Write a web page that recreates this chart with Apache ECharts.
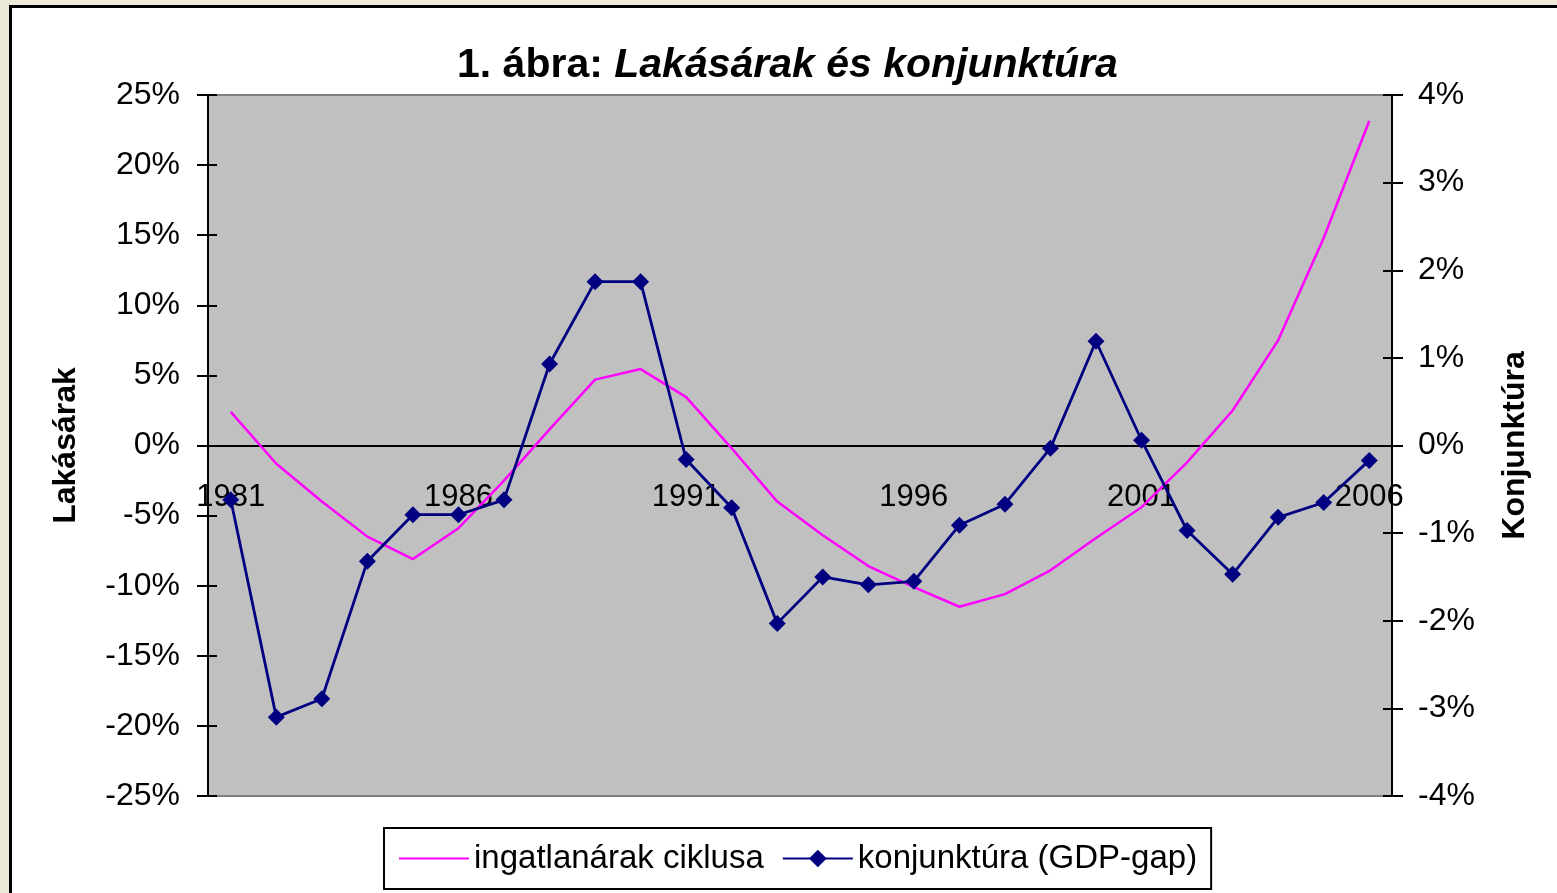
<!DOCTYPE html>
<html>
<head>
<meta charset="utf-8">
<script src="https://cdn.jsdelivr.net/npm/echarts@6/dist/echarts.min.js"></script>
<style>
  html, body { margin: 0; padding: 0; width: 1557px; height: 893px; overflow: hidden; background: #ECE9D8; }
  #frame { position: absolute; left: 9px; top: 5px; width: 1600px; height: 950px; border: 3px solid #000; background: #fff; }
  #chart { position: absolute; left: 0; top: 0; width: 1557px; height: 893px; }
</style>
</head>
<body>
<div id="frame"></div>
<div id="chart"></div>
<script>
// ---- data ----
const years = ['1981','1982','1983','1984','1985','1986','1987','1988','1989','1990','1991','1992','1993',
               '1994','1995','1996','1997','1998','1999','2000','2001','2002','2003','2004','2005','2006'];
// ingatlanárak ciklusa (left axis, %)
const housePrices = [2.4, -1.3, -4.0, -6.5, -8.1, -5.9, -2.5, 1.15, 4.7, 5.45, 3.45, -0.2, -4.0,
                     -6.4, -8.6, -10.1, -11.5, -10.6, -8.9, -6.6, -4.4, -1.2, 2.5, 7.5, 14.8, 23.15];
// konjunktúra (GDP-gap) (right axis, %)
const gdpGap = [-0.62, -3.1, -2.89, -1.32, -0.79, -0.79, -0.62, 0.93, 1.87, 1.87, -0.16, -0.71, -2.03,
                -1.5, -1.59, -1.55, -0.91, -0.67, -0.03, 1.19, 0.06, -0.97, -1.47, -0.82, -0.65, -0.17];
const leftTicks = { min: -25, max: 25, interval: 5 };
const rightTicks = { min: -4, max: 4, interval: 1 };
const seriesNames = ['ingatlanárak ciklusa', 'konjunktúra (GDP-gap)'];

const FONT = '"Liberation Sans", Arial, sans-serif';
const chart = echarts.init(document.getElementById('chart'), null, { renderer: 'canvas' });

const GRID = { left: 208, right: 165, top: 95, bottom: 97 };
const plotH = 893 - GRID.top - GRID.bottom;
// x-axis sits on the 0% line of the left axis
const zeroOffset = -plotH * (0 - leftTicks.min) / (leftTicks.max - leftTicks.min);

const baseY = (pos, t, tickInside, showAll) => ({
  type: 'value', position: pos, min: t.min, max: t.max, interval: t.interval,
  splitLine: { show: false },
  axisLine: { show: showAll, lineStyle: { color: '#000', width: 2 } },
  axisTick: { show: true, inside: tickInside, length: tickInside ? 9 : 11, lineStyle: { color: '#000', width: 2 } },
  axisLabel: { show: showAll, formatter: '{value}%', color: '#000', fontSize: 32, fontFamily: FONT },
});

const yLeft = Object.assign(baseY('left', leftTicks, false, true), {
  name: 'Lakásárak', nameLocation: 'middle', nameGap: 126, nameRotate: 90,
  nameTextStyle: { fontSize: 32, fontWeight: 'bold', color: '#000', fontFamily: FONT }
});
yLeft.axisLabel.margin = 28;
const yRight = Object.assign(baseY('right', rightTicks, false, true), {
  name: 'Konjunktúra', nameLocation: 'middle', nameGap: 107, nameRotate: 90,
  nameTextStyle: { fontSize: 32, fontWeight: 'bold', color: '#000', fontFamily: FONT }
});
yRight.axisLabel.margin = 26;
const yLeftIn = baseY('left', leftTicks, true, false);
const yRightIn = baseY('right', rightTicks, true, false);

chart.setOption({
  backgroundColor: 'transparent',
  animation: false,
  title: {
    text: '{a|1. ábra: }{b|Lakásárak és konjunktúra}',
    left: 457, top: 45, padding: 0,
    textStyle: {
      rich: {
        a: { fontSize: 41, fontWeight: 'bold', color: '#000', fontFamily: FONT },
        b: { fontSize: 41, fontWeight: 'bold', fontStyle: 'italic', color: '#000', fontFamily: FONT }
      }
    }
  },
  grid: Object.assign({
    show: true, backgroundColor: '#C0C0C0', borderColor: '#808080', borderWidth: 2
  }, GRID),
  legend: {
    left: 384, top: 828, padding: [14, 14], itemGap: 18, itemWidth: 70, itemHeight: 22,
    borderColor: '#000', borderWidth: 2, backgroundColor: '#fff',
    textStyle: { fontSize: 33, color: '#000', fontFamily: FONT },
    data: [
      { name: seriesNames[0], itemStyle: { opacity: 0 } },
      { name: seriesNames[1] }
    ]
  },
  xAxis: {
    type: 'category', data: years, boundaryGap: true, position: 'bottom',
    offset: zeroOffset,
    axisLine: { onZero: false, lineStyle: { color: '#000', width: 2 } },
    axisTick: { show: false },
    axisLabel: { interval: 4, color: '#000', fontSize: 31, fontFamily: FONT, margin: 36 },
    splitLine: { show: false }
  },
  yAxis: [yLeft, yRight, yLeftIn, yRightIn],
  series: [
    {
      name: seriesNames[0], type: 'line', yAxisIndex: 0, data: housePrices,
      symbol: 'none', showSymbol: false,
      lineStyle: { color: '#FF00FF', width: 2.5 }, itemStyle: { color: '#FF00FF' }, z: 2
    },
    {
      name: seriesNames[1], type: 'line', yAxisIndex: 1, data: gdpGap,
      symbol: 'diamond', symbolSize: 17,
      lineStyle: { color: '#000080', width: 2.8 }, itemStyle: { color: '#000080' }, z: 3
    }
  ]
});
</script>
</body>
</html>
